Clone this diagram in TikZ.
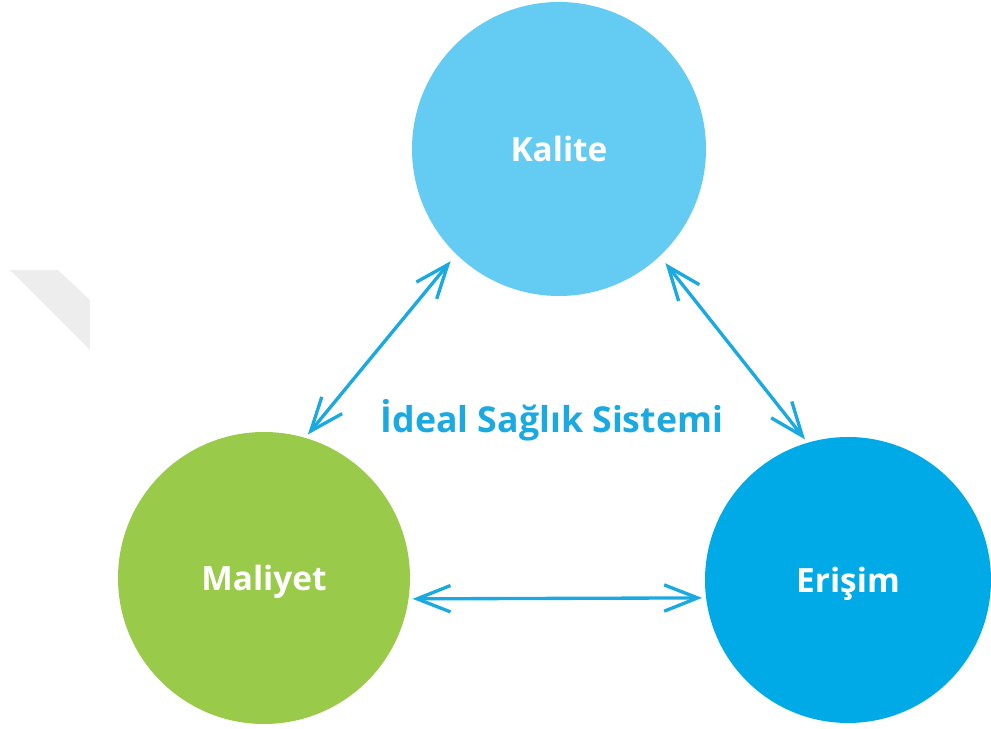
\documentclass[tikz,border=0pt]{standalone}
\usepackage{fontspec}
\setmainfont{Open Sans}
\usetikzlibrary{arrows.meta,positioning}

\definecolor{kalblue}{HTML}{64CBF3}
\definecolor{malgreen}{HTML}{9ACA4A}
\definecolor{eriblue}{HTML}{00AAE6}
\definecolor{linkblue}{HTML}{1BA9E1}
\definecolor{shadegray}{HTML}{EDEDED}

\begin{document}
\begin{tikzpicture}[
    circ/.style={circle, draw=none, text=white, inner sep=0pt, text depth=0pt,
        font=\bfseries\fontsize{19}{23}\selectfont},
    link/.style={draw=linkblue, line width=1.9pt,
        {Straight Barb[length=19pt,width=15pt]}-{Straight Barb[length=19pt,width=15pt]}}
]
    \useasboundingbox (0,0) rectangle (19.82,14.58);

    % faint grey band on the left
    \fill[shadegray] (0.2,9.18) -- (1.16,9.18) -- (1.8,8.58) -- (1.8,7.58) -- cycle;

    \node[circ, fill=kalblue, minimum size=5.88cm, outer sep=0.18cm] (kal) at (11.18,11.60) {Kalite};
    \node[circ, fill=malgreen, minimum size=5.84cm, outer sep=0.08cm] (mal) at (5.28,3.02) {Maliyet};
    \node[circ, fill=eriblue, minimum size=5.72cm, outer sep=0.08cm] (eri) at (16.96,2.98) {Erişim};

    \node[text=linkblue, font=\bfseries\fontsize{20.3}{24}\selectfont, anchor=base] (ideal) at (11.04,5.92) {İdeal Sağlık Sistemi};

    % links between the three
    \draw[link] (kal.226) -- (mal.73);
    \draw[link] (kal.-47) -- (eri.107);
    \draw[link] (mal.-8) -- (eri.187.4);
\end{tikzpicture}
\end{document}
